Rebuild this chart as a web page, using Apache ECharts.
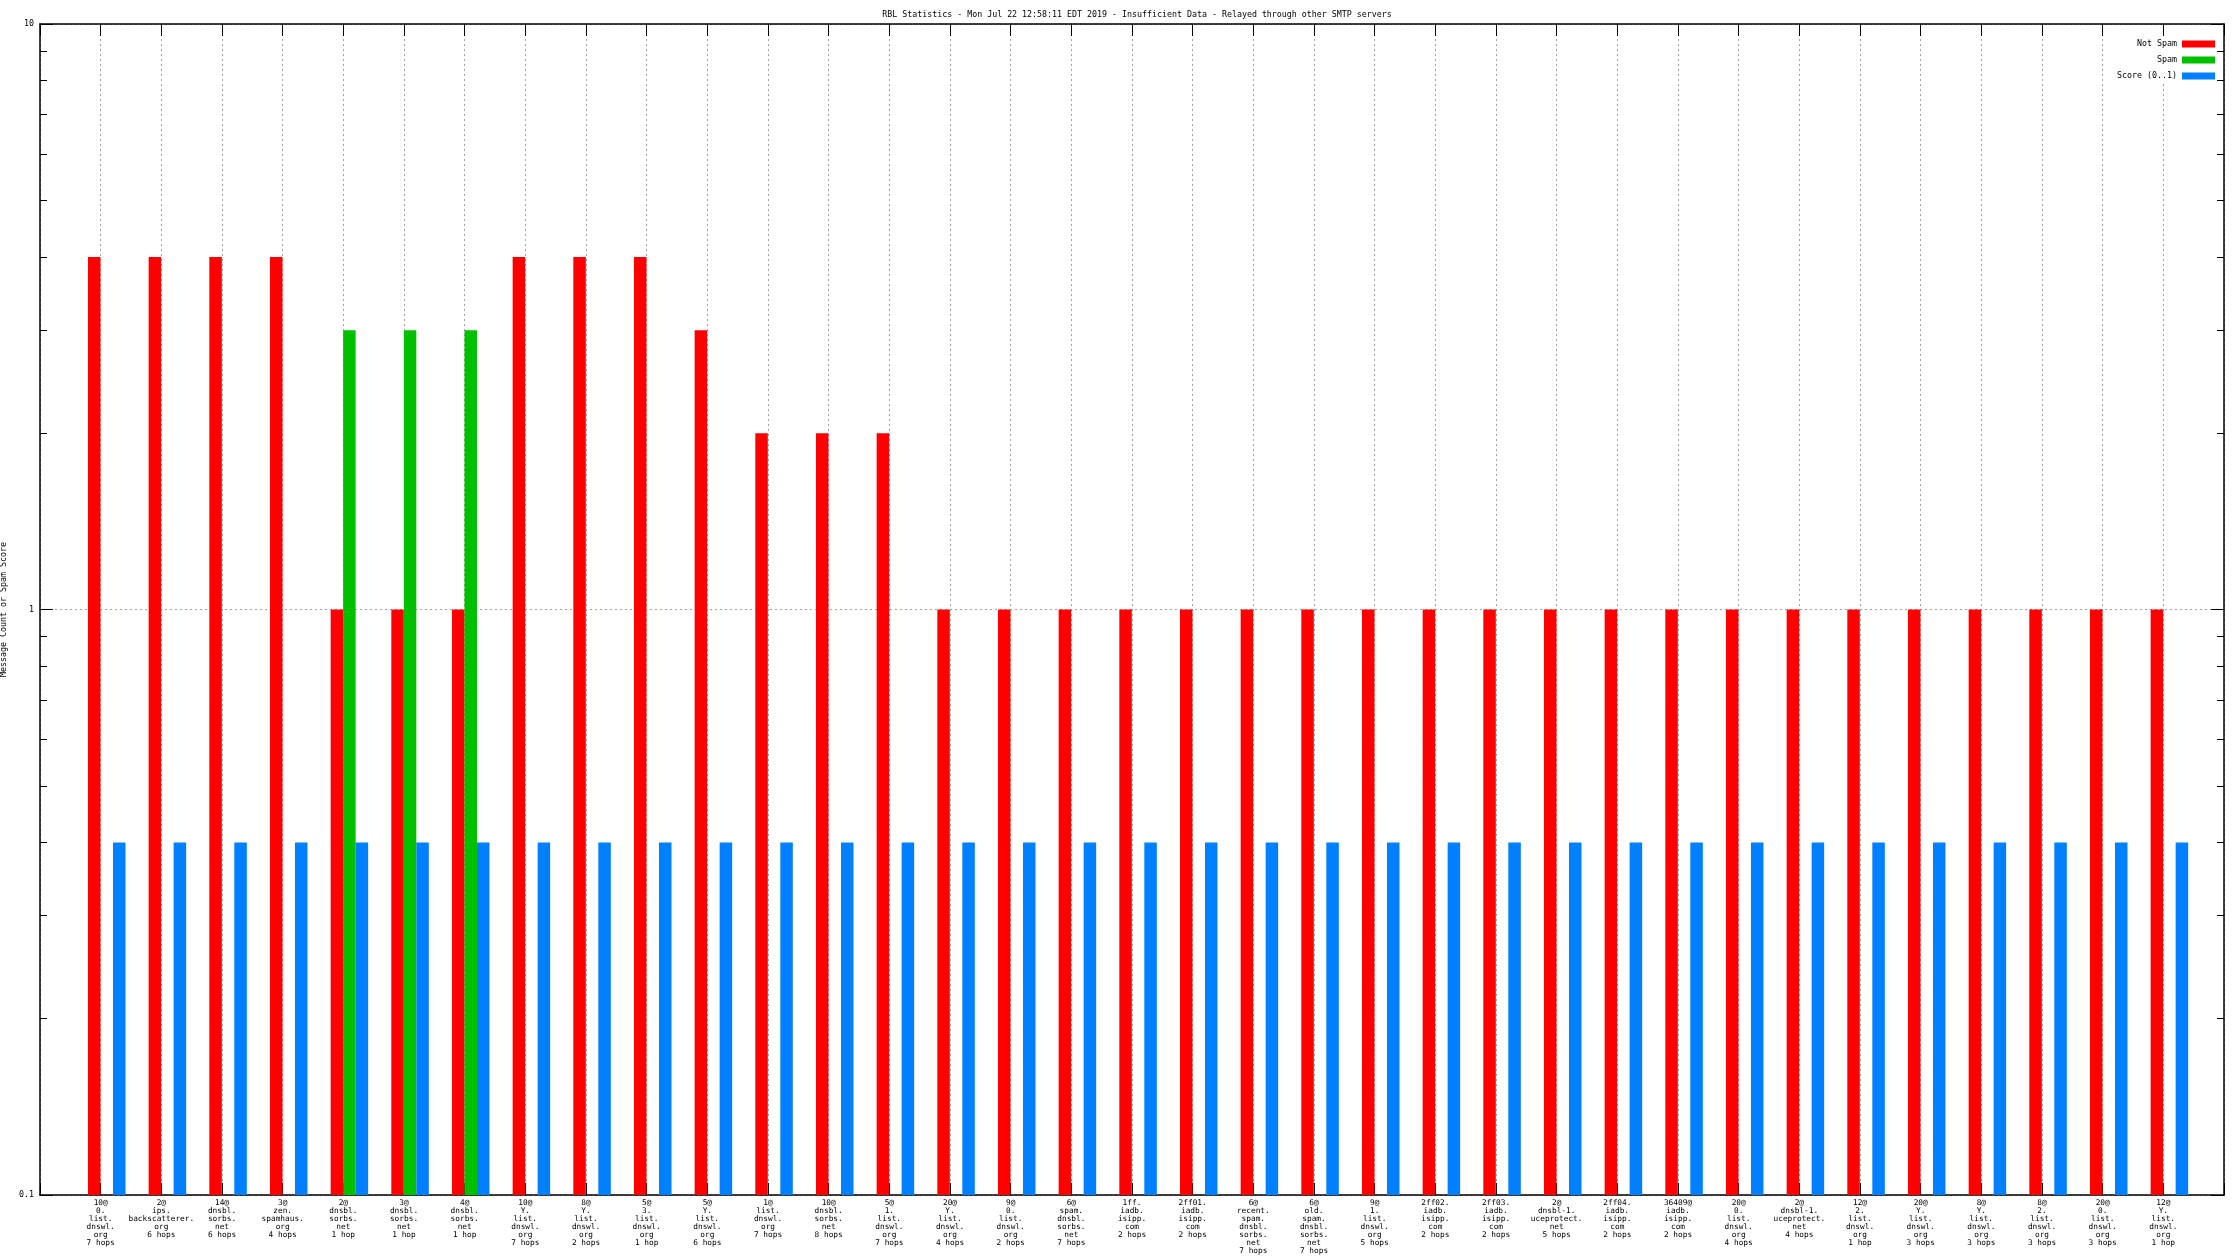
<!DOCTYPE html>
<html>
<head>
<meta charset="utf-8">
<script src="https://cdn.jsdelivr.net/npm/echarts@6/dist/echarts.min.js"></script>
<style>
html,body{margin:0;padding:0;background:#fff;}
#chart{width:2240px;height:1260px;}
</style>
</head>
<body>
<div id="chart"></div>
<script>
const titleText = 'RBL Statistics - Mon Jul 22 12:58:11 EDT 2019 - Insufficient Data - Relayed through other SMTP servers';
const yAxisTitle = 'Message Count or Spam Score';
const seriesNames = ['Not Spam', 'Spam', 'Score (0..1)'];

const categories = [
  '10@\n0.\nlist.\ndnswl.\norg\n7 hops',
  '2@\nips.\nbackscatterer.\norg\n6 hops',
  '14@\ndnsbl.\nsorbs.\nnet\n6 hops',
  '3@\nzen.\nspamhaus.\norg\n4 hops',
  '2@\ndnsbl.\nsorbs.\nnet\n1 hop',
  '3@\ndnsbl.\nsorbs.\nnet\n1 hop',
  '4@\ndnsbl.\nsorbs.\nnet\n1 hop',
  '10@\nY.\nlist.\ndnswl.\norg\n7 hops',
  '8@\nY.\nlist.\ndnswl.\norg\n2 hops',
  '5@\n3.\nlist.\ndnswl.\norg\n1 hop',
  '5@\nY.\nlist.\ndnswl.\norg\n6 hops',
  '1@\nlist.\ndnswl.\norg\n7 hops',
  '10@\ndnsbl.\nsorbs.\nnet\n8 hops',
  '5@\n1.\nlist.\ndnswl.\norg\n7 hops',
  '20@\nY.\nlist.\ndnswl.\norg\n4 hops',
  '9@\n0.\nlist.\ndnswl.\norg\n2 hops',
  '6@\nspam.\ndnsbl.\nsorbs.\nnet\n7 hops',
  '1ff.\niadb.\nisipp.\ncom\n2 hops',
  '2ff01.\niadb.\nisipp.\ncom\n2 hops',
  '6@\nrecent.\nspam.\ndnsbl.\nsorbs.\nnet\n7 hops',
  '6@\nold.\nspam.\ndnsbl.\nsorbs.\nnet\n7 hops',
  '9@\n1.\nlist.\ndnswl.\norg\n5 hops',
  '2ff02.\niadb.\nisipp.\ncom\n2 hops',
  '2ff03.\niadb.\nisipp.\ncom\n2 hops',
  '2@\ndnsbl-1.\nuceprotect.\nnet\n5 hops',
  '2ff04.\niadb.\nisipp.\ncom\n2 hops',
  '36409@\niadb.\nisipp.\ncom\n2 hops',
  '20@\n0.\nlist.\ndnswl.\norg\n4 hops',
  '2@\ndnsbl-1.\nuceprotect.\nnet\n4 hops',
  '12@\n2.\nlist.\ndnswl.\norg\n1 hop',
  '20@\nY.\nlist.\ndnswl.\norg\n3 hops',
  '8@\nY.\nlist.\ndnswl.\norg\n3 hops',
  '8@\n2.\nlist.\ndnswl.\norg\n3 hops',
  '20@\n0.\nlist.\ndnswl.\norg\n3 hops',
  '12@\nY.\nlist.\ndnswl.\norg\n1 hop'
];

const notSpam = [4,4,4,4,1,1,1,4,4,4,3,2,2,2,1,1,1,1,1,1,1,1,1,1,1,1,1,1,1,1,1,1,1,1,1];
const spam    = [null,null,null,null,3,3,3,null,null,null,null,null,null,null,null,null,null,null,null,null,null,null,null,null,null,null,null,null,null,null,null,null,null,null,null];
const score   = [0.4,0.4,0.4,0.4,0.4,0.4,0.4,0.4,0.4,0.4,0.4,0.4,0.4,0.4,0.4,0.4,0.4,0.4,0.4,0.4,0.4,0.4,0.4,0.4,0.4,0.4,0.4,0.4,0.4,0.4,0.4,0.4,0.4,0.4,0.4];

const yMajorTicks = [0.1, 1, 10];
const yMinorTicks = [0.2,0.3,0.4,0.5,0.6,0.7,0.8,0.9,2,3,4,5,6,7,8,9];

const FONT = 'DejaVu Sans Mono';
const chart = echarts.init(document.getElementById('chart'), null, {renderer: 'canvas'});

function toPairs(arr) { return arr.map((v, i) => [i, v]); }

const dashed = {color: '#a0a0a0', width: 1, type: [2, 3]};
const border = {show: true, onZero: false, lineStyle: {color: '#000', width: 1.5}};
const noLine = {show: false, onZero: false};

function yAx(opts) {
  return Object.assign({
    type: 'log', logBase: 10, min: 0.1, max: 10,
    axisLine: noLine, axisLabel: {show: false},
    axisTick: {show: false}, splitLine: {show: false}
  }, opts);
}

chart.setOption({
  animation: false,
  backgroundColor: '#fff',
  title: {
    text: titleText, left: 1132, top: 6, textAlign: 'center',
    textStyle: {fontFamily: FONT, fontSize: 8.3, fontWeight: 'normal', color: '#000'}
  },
  legend: {
    orient: 'vertical', right: 23, top: 38, align: 'right',
    itemWidth: 33, itemHeight: 7, itemGap: 8, padding: 2,
    backgroundColor: '#fff',
    icon: 'rect',
    textStyle: {fontFamily: FONT, fontSize: 8.3, color: '#000'},
    data: seriesNames
  },
  grid: {left: 40, right: 16, top: 24, bottom: 65, containLabel: false, outerBoundsMode: 'none'},
  xAxis: [
    {
      type: 'value', position: 'bottom', min: -1, max: categories.length, interval: 1,
      axisLine: border,
      axisTick: {show: true, inside: true, length: 12, lineStyle: {color: '#000'}},
      splitLine: {show: true, lineStyle: dashed},
      axisLabel: {
        show: true, margin: 4, fontFamily: FONT, fontSize: 7.8, lineHeight: 8, color: '#000',
        showMinLabel: true, showMaxLabel: true, hideOverlap: false,
        formatter: v => (Number.isInteger(v) && v >= 0 && v < categories.length) ? categories[v] : ''
      }
    },
    {
      type: 'value', position: 'top', min: -1, max: categories.length, interval: 1,
      axisLine: border,
      axisTick: {show: true, inside: true, length: 12, lineStyle: {color: '#000'}},
      splitLine: {show: false}, axisLabel: {show: false}
    },
    {
      type: 'value', position: 'bottom', min: -1.1, max: categories.length - 0.1,
      show: false, axisLine: noLine
    }
  ],
  yAxis: [
    yAx({
      position: 'left', startValue: 0.1,
      axisLine: border,
      axisTick: {show: true, inside: true, length: 13, lineStyle: {color: '#000'}},
      splitLine: {show: true, lineStyle: dashed},
      axisLabel: {show: true, margin: 6, fontFamily: FONT, fontSize: 8.3, color: '#000',
        formatter: v => String(v)},
      name: yAxisTitle, nameLocation: 'middle', nameGap: 25, nameRotate: 90,
      nameTextStyle: {fontFamily: FONT, fontSize: 8.3, color: '#000'}
    }),
    yAx({
      position: 'left',
      axisTick: {show: true, inside: true, length: 7, customValues: yMinorTicks, lineStyle: {color: '#000'}}
    }),
    yAx({
      position: 'right',
      axisLine: border,
      axisTick: {show: true, inside: true, length: 13, customValues: yMajorTicks, lineStyle: {color: '#000'}}
    }),
    yAx({
      position: 'right',
      axisTick: {show: true, inside: true, length: 7, customValues: yMinorTicks, lineStyle: {color: '#000'}}
    })
  ],
  series: [
    {name: seriesNames[0], type: 'bar', xAxisIndex: 2, yAxisIndex: 0, barWidth: 12.5, barGap: '0%',
      itemStyle: {color: '#ff0000'}, data: toPairs(notSpam)},
    {name: seriesNames[1], type: 'bar', xAxisIndex: 2, yAxisIndex: 0, barWidth: 12.5, barGap: '0%',
      itemStyle: {color: '#00c000'}, data: toPairs(spam)},
    {name: seriesNames[2], type: 'bar', xAxisIndex: 2, yAxisIndex: 0, barWidth: 12.5, barGap: '0%',
      itemStyle: {color: '#0080ff'}, data: toPairs(score)}
  ]
});
</script>
</body>
</html>
